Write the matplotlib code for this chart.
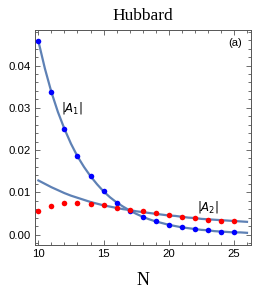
import numpy as np
import matplotlib
matplotlib.use("Agg")
import matplotlib.pyplot as plt
from matplotlib.ticker import MultipleLocator

# data points
n_points = [10, 11, 12, 13, 14, 15, 16, 17, 18, 19, 20, 21, 22, 23, 24, 25]
a1_points = [0.0458, 0.0337, 0.0250, 0.0185, 0.0138, 0.0102, 0.0075, 0.0056,
             0.0041, 0.0032, 0.0023, 0.0017, 0.0012, 0.0010, 0.0007, 0.0005]
a2_points = [0.0055, 0.0068, 0.0074, 0.0074, 0.0072, 0.0069, 0.0063, 0.0059,
             0.0055, 0.0050, 0.0046, 0.0042, 0.0038, 0.0035, 0.0033, 0.0031]

# fitted curves, sampled every half step
n_curve = [10, 10.5, 11, 11.5, 12, 12.5, 13, 13.5, 14, 14.5, 15, 15.5, 16, 16.5,
           17, 17.5, 18, 18.5, 19, 19.5, 20, 20.5, 21, 21.5, 22, 22.5, 23, 23.5,
           24, 24.5, 25, 25.5, 26]
a1_curve = [0.0458, 0.0393, 0.0337, 0.0290, 0.0250, 0.0215, 0.0185, 0.0160,
            0.0138, 0.0119, 0.0102, 0.0088, 0.0076, 0.0066, 0.0057, 0.0049,
            0.0042, 0.0036, 0.0031, 0.0027, 0.0023, 0.0020, 0.0017, 0.0015,
            0.0013, 0.0011, 0.0010, 0.0008, 0.0007, 0.0006, 0.0005, 0.0005,
            0.0004]
a2_curve = [0.0128, 0.0120, 0.0112, 0.0105, 0.0098, 0.0092, 0.0087, 0.0082,
            0.0077, 0.0073, 0.0069, 0.0066, 0.0063, 0.0060, 0.0058, 0.0055,
            0.0053, 0.0051, 0.0049, 0.0047, 0.0045, 0.0044, 0.0042, 0.0040,
            0.0039, 0.0037, 0.0036, 0.0035, 0.0034, 0.0033, 0.0032, 0.0031,
            0.0030]

line_color = "#5E81B5"
frame_color = "#555555"

plt.rcParams["mathtext.fontset"] = "dejavusans"

fig = plt.figure(figsize=(2.6, 2.89), dpi=100)
ax = fig.add_axes([0.135, 0.152, 0.83, 0.744])

ax.plot(n_curve, a1_curve, color=line_color, lw=1.6, zorder=2)
ax.plot(n_curve, a2_curve, color=line_color, lw=1.6, zorder=2)
ax.plot(n_points, a1_points, "o", color="#0000FF", ms=4, mec="none", zorder=3)
ax.plot(n_points, a2_points, "o", color="#FF0000", ms=4, mec="none", zorder=3)

ax.set_xlim(9.75, 26.3)
ax.set_ylim(-0.0025, 0.0484)

ax.xaxis.set_major_locator(MultipleLocator(5))
ax.xaxis.set_minor_locator(MultipleLocator(1))
ax.yaxis.set_major_locator(MultipleLocator(0.01))
ax.yaxis.set_minor_locator(MultipleLocator(0.002))
ax.yaxis.set_major_formatter(matplotlib.ticker.FormatStrFormatter("%.2f"))

ax.tick_params(which="both", direction="in", top=True, right=True,
               color=frame_color, width=0.6)
ax.tick_params(which="major", length=3.5, labelsize=8.2, pad=3)
ax.tick_params(which="minor", length=2)
for lab in ax.get_xticklabels() + ax.get_yticklabels():
    lab.set_family("Liberation Sans")
for sp in ax.spines.values():
    sp.set_color(frame_color)
    sp.set_linewidth(0.7)

ax.text(12.6, 0.0299, r"$|A_1|$", fontsize=8.5, ha="center", va="center")
ax.text(23.0, 0.0066, r"$|A_2|$", fontsize=8.5, ha="center", va="center")
ax.text(0.926, 0.94, "(a)", transform=ax.transAxes, fontsize=8,
        family="Liberation Sans", ha="center", va="center")

ax.set_title("Hubbard", family="Liberation Serif", fontsize=12.5, pad=7)
ax.set_xlabel("N", family="Liberation Serif", fontsize=13, labelpad=9)

fig.savefig("out.png", dpi=100)
